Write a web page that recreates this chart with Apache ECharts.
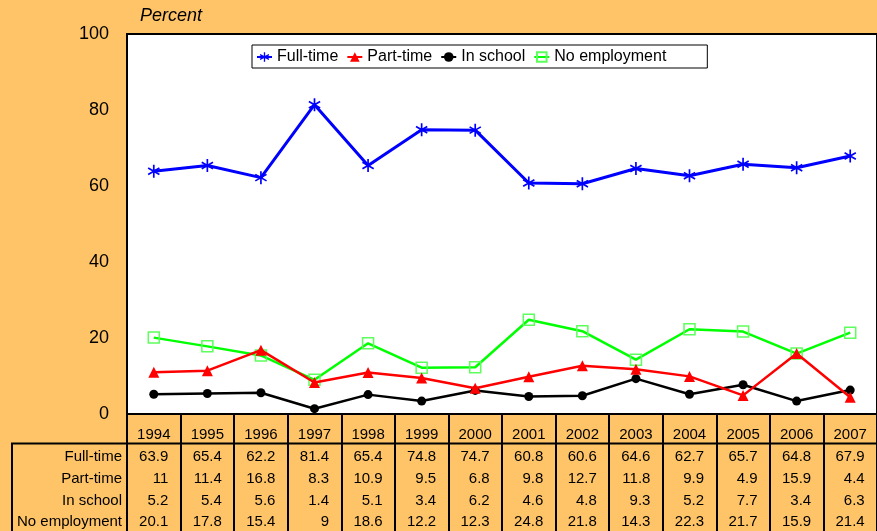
<!DOCTYPE html>
<html>
<head>
<meta charset="utf-8">
<script src="https://cdn.jsdelivr.net/npm/echarts@6/dist/echarts.min.js"></script>
<style>
html,body{margin:0;padding:0;background:#FFC468;}
#chart{width:877px;height:531px;}
</style>
</head>
<body>
<div id="chart"></div>
<script>
const years = ['1994','1995','1996','1997','1998','1999','2000','2001','2002','2003','2004','2005','2006','2007'];
const fullTime = [63.9, 65.4, 62.2, 81.4, 65.4, 74.8, 74.7, 60.8, 60.6, 64.6, 62.7, 65.7, 64.8, 67.9];
const partTime = [11, 11.4, 16.8, 8.3, 10.9, 9.5, 6.8, 9.8, 12.7, 11.8, 9.9, 4.9, 15.9, 4.4];
const inSchool = [5.2, 5.4, 5.6, 1.4, 5.1, 3.4, 6.2, 4.6, 4.8, 9.3, 5.2, 7.7, 3.4, 6.3];
const noEmployment = [20.1, 17.8, 15.4, 9, 18.6, 12.2, 12.3, 24.8, 21.8, 14.3, 22.3, 21.7, 15.9, 21.4];
const seriesNames = ['Full-time', 'Part-time', 'In school', 'No employment'];
const yMin = 0, yMax = 100, yStep = 20;

function asteriskPath() {
  const r = 10, t = 1.3;
  let d = '';
  [90, 30, 150].forEach(function (deg) {
    const a = deg * Math.PI / 180;
    const cx = Math.cos(a), cy = Math.sin(a);
    const px = -cy * t, py = cx * t;
    const pts = [
      [10 - cx * r + px, 10 - cy * r + py],
      [10 + cx * r + px, 10 + cy * r + py],
      [10 + cx * r - px, 10 + cy * r - py],
      [10 - cx * r - px, 10 - cy * r - py]
    ];
    d += 'M' + pts.map(p => p[0].toFixed(2) + ' ' + p[1].toFixed(2)).join('L') + 'Z';
  });
  return 'path://' + d;
}

const rows = [fullTime, partTime, inSchool, noEmployment];
const rowOffsets = [42.5, 64.5, 86.5, 108];

const gridLeft = 127, gridTop = 34, gridWidth = 761, gridHeight = 380;
const FONT = 'Liberation Sans, Arial';

const xAxes = [{
  type: 'category',
  data: years,
  position: 'bottom',
  axisLine: { show: true, lineStyle: { color: '#000', width: 2 } },
  axisTick: { show: true, interval: 0, length: 118, lineStyle: { color: '#000', width: 2 } },
  axisLabel: { interval: 0, margin: 21, verticalAlign: 'middle', fontSize: 15, color: '#000', fontFamily: FONT }
}];
rows.forEach(function (vals, i) {
  xAxes.push({
    type: 'category',
    data: years,
    position: 'bottom',
    offset: rowOffsets[i],
    name: seriesNames[i],
    nameLocation: 'start',
    nameGap: 5,
    nameTextStyle: { fontSize: 15, color: '#000', fontFamily: FONT },
    axisLine: { show: false },
    axisTick: { show: false },
    axisLabel: {
      interval: 0, margin: 0, verticalAlign: 'middle', align: 'center',
      fontSize: 15, color: '#000', fontFamily: FONT,
      formatter: function (v, idx) { return '{v|' + vals[idx] + '}'; },
      rich: { v: { width: 29, align: 'right', fontSize: 15, color: '#000', fontFamily: FONT } }
    }
  });
});

const chart = echarts.init(document.getElementById('chart'));
chart.setOption({
  backgroundColor: '#FFC468',
  animation: false,
  textStyle: { fontFamily: FONT },
  title: {
    text: 'Percent', left: 140, top: 7, padding: 0,
    textStyle: { fontSize: 18, fontStyle: 'italic', fontWeight: 'normal', color: '#000', fontFamily: FONT }
  },
  legend: {
    left: 252, top: 45,
    padding: [4, 41, 3, 4],
    itemGap: 8, itemWidth: 15, itemHeight: 12,
    backgroundColor: '#fff', borderColor: '#000', borderWidth: 1, borderRadius: 0,
    textStyle: { fontSize: 16, color: '#000', fontFamily: FONT },
    data: seriesNames
  },
  grid: {
    left: gridLeft, top: gridTop, width: gridWidth, height: gridHeight,
    show: true, backgroundColor: '#fff', borderColor: '#000', borderWidth: 2
  },
  xAxis: xAxes,
  yAxis: {
    type: 'value', min: yMin, max: yMax, interval: yStep,
    axisLine: { show: true, lineStyle: { color: '#000', width: 2 } },
    axisTick: { show: false },
    splitLine: { show: false },
    axisLabel: { fontSize: 18, color: '#000', margin: 18, fontFamily: FONT }
  },
  graphic: [{
    type: 'polyline',
    shape: { points: [[12, 531], [12, 443.5], [890, 443.5]] },
    style: { stroke: '#000', lineWidth: 2, fill: null },
    z: 100
  }],
  series: [
    {
      name: seriesNames[0], type: 'line', data: fullTime, z: 4,
      symbol: asteriskPath(), symbolSize: 13, symbolKeepAspect: true,
      lineStyle: { color: '#0000FF', width: 3 },
      itemStyle: { color: '#0000FF' }
    },
    {
      name: seriesNames[1], type: 'line', data: partTime, z: 3,
      symbol: 'triangle', symbolSize: 11,
      lineStyle: { color: '#FF0000', width: 2.5 },
      itemStyle: { color: '#FF0000' }
    },
    {
      name: seriesNames[2], type: 'line', data: inSchool, z: 2,
      symbol: 'circle', symbolSize: 9,
      lineStyle: { color: '#000000', width: 2.5 },
      itemStyle: { color: '#000000' }
    },
    {
      name: seriesNames[3], type: 'line', data: noEmployment, z: 2,
      symbol: 'rect', symbolSize: 11,
      lineStyle: { color: '#00FF00', width: 2.5 },
      itemStyle: { color: 'rgba(255,255,255,0)', borderColor: '#5CFF5C', borderWidth: 1.5 }
    }
  ]
});
</script>
</body>
</html>
